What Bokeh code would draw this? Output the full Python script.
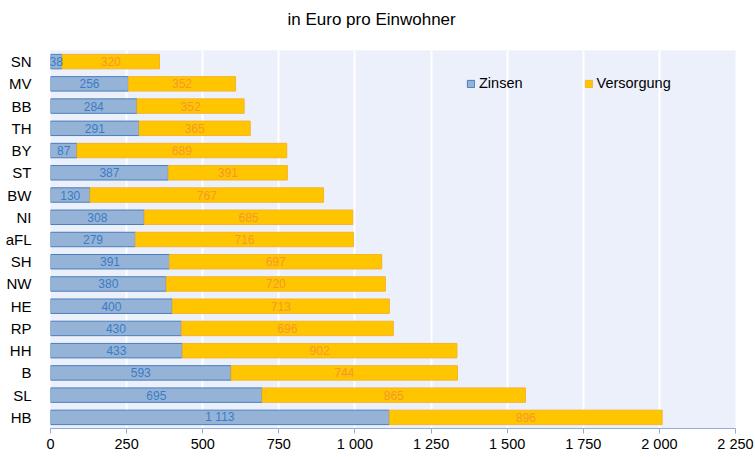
from bokeh.plotting import figure
from bokeh.models import ColumnDataSource, FactorRange, Range1d, FixedTicker, Legend, LegendItem, LabelSet, Title
from bokeh.core.properties import value
from bokeh.embed import file_html
from bokeh.resources import INLINE

# Data (top to bottom as shown)
laender = ["SN", "MV", "BB", "TH", "BY", "ST", "BW", "NI", "aFL", "SH", "NW", "HE", "RP", "HH", "B", "SL", "HB"]
zinsen = [38, 256, 284, 291, 87, 387, 130, 308, 279, 391, 380, 400, 430, 433, 593, 695, 1113]
versorgung = [320, 352, 352, 365, 689, 391, 767, 685, 716, 697, 720, 713, 696, 902, 744, 865, 896]
x_ticks = [0, 250, 500, 750, 1000, 1250, 1500, 1750, 2000, 2250]
x_tick_labels = ["0", "250", "500", "750", "1 000", "1 250", "1 500", "1 750", "2 000", "2 250"]
title_text = "in Euro pro Einwohner"

def fmt(v):
    return f"{v:,}".replace(",", " ")

src = ColumnDataSource(dict(
    land=laender,
    z=zinsen,
    v=versorgung,
    total=[a + b for a, b in zip(zinsen, versorgung)],
    zmid=[a / 2 for a in zinsen],
    vmid=[a + b / 2 for a, b in zip(zinsen, versorgung)],
    zlab=[fmt(a) for a in zinsen],
    vlab=[fmt(b) for b in versorgung],
))

FONT = "Liberation Sans"

p = figure(width=755, height=457, output_backend="svg", toolbar_location=None,
           y_range=FactorRange(*laender[::-1], range_padding=0),
           x_range=Range1d(0, 2250),
           min_border_left=50, min_border_right=20, min_border_top=50, min_border_bottom=29)

p.background_fill_color = "#ECF0FA"
p.border_fill_color = "white"
p.outline_line_color = None

r1 = p.hbar(y="land", left=0, right="z", height=0.65, source=src,
            fill_color="#95B3D7", line_color="#4A7EBB", line_width=1)
r2 = p.hbar(y="land", left="z", right="total", height=0.65, source=src,
            fill_color="#FFC600", line_color="#F5B32A", line_width=1)

p.add_layout(LabelSet(x="zmid", y="land", text="zlab", source=src, text_align="center",
                      text_baseline="middle", text_font=value(FONT), text_font_size="12px",
                      text_color="#3A7CC4"))
p.add_layout(LabelSet(x="vmid", y="land", text="vlab", source=src, text_align="center",
                      text_baseline="middle", text_font=value(FONT), text_font_size="12px",
                      text_color="#F5962F"))

# grid
p.xgrid.ticker = FixedTicker(ticks=x_ticks)
p.xgrid.grid_line_color = "white"
p.xgrid.grid_line_width = 2
p.ygrid.grid_line_color = None

# x axis
p.xaxis.ticker = FixedTicker(ticks=x_ticks)
p.xaxis.major_label_overrides = {t: l for t, l in zip(x_ticks, x_tick_labels)}
p.xaxis.axis_line_color = "#94ACDC"
p.xaxis.major_tick_line_color = "#94ACDC"
p.xaxis.major_tick_out = 5
p.xaxis.major_tick_in = 0
p.xaxis.minor_tick_line_color = None
p.xaxis.major_label_text_font = FONT
p.xaxis.major_label_text_font_size = "14.5px"
p.xaxis.major_label_text_color = "black"
p.xaxis.major_label_standoff = 2

# y axis
p.yaxis.axis_line_color = None
p.yaxis.major_tick_line_color = None
p.yaxis.minor_tick_line_color = None
p.yaxis.major_label_text_font = FONT
p.yaxis.major_label_text_font_size = "15px"
p.yaxis.major_label_text_color = "black"
p.yaxis.major_label_standoff = 13

# title
p.title.text = title_text
p.title.text_font = FONT
p.title.text_font_size = "17px"
p.title.text_font_style = "normal"
p.title.text_color = "black"
p.title.align = "left"
p.title.offset = 237
p.title.standoff = 14
# blank spacer panel between title and plot frame
p.add_layout(Title(text=" ", text_font_size="1px", standoff=12), "above")

legend = Legend(items=[LegendItem(label="Zinsen", renderers=[r1]),
                       LegendItem(label="Versorgung", renderers=[r2])],
                orientation="horizontal", location=(416, 337),
                padding=0, margin=0, spacing=61,
                glyph_width=9, glyph_height=9, label_height=9, label_standoff=4,
                label_text_font=FONT, label_text_font_size="14.5px", label_text_color="black",
                border_line_alpha=0, background_fill_alpha=0)
p.add_layout(legend, "center")

open("out.html", "w").write(file_html(p, INLINE))
